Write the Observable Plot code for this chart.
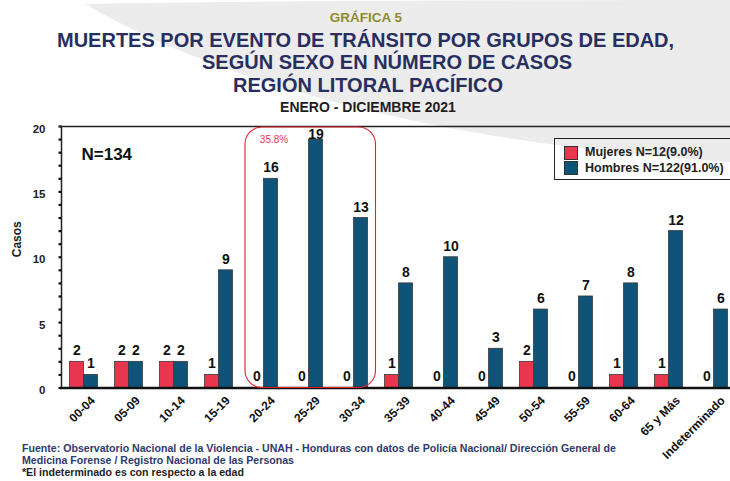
<!DOCTYPE html>
<html>
<head>
<meta charset="utf-8">
<script src="https://cdn.jsdelivr.net/npm/d3@7"></script>
<script src="https://cdn.jsdelivr.net/npm/@observablehq/plot@0.6"></script>
<style>
  body { margin: 0; background: #fff; }
  #wrap { position: relative; width: 730px; height: 481px; overflow: hidden; font-family: "Liberation Sans", Arial, sans-serif; }
  #bg { position: absolute; left: 0; top: 0; width: 730px; height: 481px; background: #ececec;
        clip-path: path('M85,4 Q300,0 730,0 L730,170 L730,162 C380,140 180,60 85,4 Z'); }
  .t { position: absolute; white-space: pre; font-weight: bold; line-height: 1; }
  #chart { position: absolute; left: 0; top: 110px; }
  #legend { position: absolute; left: 554px; top: 138px; width: 185px; height: 40px; border: 1.5px solid #222; }
  .sw { position: absolute; width: 12px; height: 12px; border: 1px solid #333; }
  .lt { position: absolute; white-space: pre; font-weight: bold; font-size: 12.5px; line-height: 1; color: #222; }
  .cap { position: absolute; left: 22px; white-space: pre; font-weight: bold; font-size: 10.6px; line-height: 1; }
</style>
</head>
<body>
<div id="wrap">
  <div id="bg"></div>
  <div class="t" style="left:166px;width:400px;text-align:center;top:11px;font-size:13.5px;color:#8c8c2e;">GRÁFICA 5</div>
  <div class="t" style="left:57px;top:29.6px;font-size:20px;color:#262f5f;">MUERTES POR EVENTO DE TRÁNSITO POR GRUPOS DE EDAD,</div>
  <div class="t" style="left:202px;top:52.3px;font-size:20px;color:#262f5f;">SEGÚN SEXO EN NÚMERO DE CASOS</div>
  <div class="t" style="left:233px;top:75px;font-size:20px;color:#262f5f;">REGIÓN LITORAL PACÍFICO</div>
  <div class="t" style="left:168px;width:400px;text-align:center;top:100.2px;font-size:14px;color:#1e1e1e;">ENERO - DICIEMBRE 2021</div>
  <div id="chart"></div>
  <div id="legend"></div>
  <div class="cap" style="top:443px;color:#2f3a6c;">Fuente: Observatorio Nacional de la Violencia - UNAH - Honduras con datos de Policía Nacional/ Dirección General de</div>
  <div class="cap" style="top:455px;color:#2f3a6c;">Medicina Forense / Registro Nacional de las Personas</div>
  <div class="cap" style="top:467px;color:#1e1e1e;">*El indeterminado es con respecto a la edad</div>
</div>
<script>
// ---- data ----
const categories = ["00-04","05-09","10-14","15-19","20-24","25-29","30-34","35-39","40-44","45-49","50-54","55-59","60-64","65 y Más","Indeterminado"];
const mujeres = [2,2,2,1,0,0,0,1,0,0,2,0,1,1,0];
const hombres = [1,2,2,9,16,19,13,8,10,3,6,7,8,12,6];
const yTicks = [0,5,10,15,20];
const series = ["Mujeres N=12(9.0%)", "Hombres N=122(91.0%)"];
const colors = ["#e8364e", "#0f5378"];
const totalLabel = "N=134";
const highlight = {from: "20-24", to: "30-34", label: "35.8%"};

const rowsM = categories.map((c, i) => ({cat: c, v: mujeres[i]}));
const rowsH = categories.map((c, i) => ({cat: c, v: hombres[i]}));
const clamp = d => d.v >= 19;

const txt = {fontSize: 14, fontWeight: "bold", fill: "#111"};

const chart = Plot.plot({
  width: 730,
  height: 370,
  marginLeft: 60,
  marginRight: 0,
  marginTop: 16,
  marginBottom: 92.5,
  style: {background: "transparent", overflow: "visible", fontFamily: "Liberation Sans, Arial, sans-serif", fontSize: "11.5px"},
  x: {domain: categories, range: [60.5, 735.5], padding: 0, axis: null},
  y: {domain: [0, 20], axis: null},
  marks: [
    Plot.barY(rowsM, {x: "cat", y: "v", fill: colors[0], stroke: "#3a3a3a", strokeWidth: 0.8, insetLeft: 8.5, insetRight: 22.5}),
    Plot.barY(rowsH, {x: "cat", y: "v", fill: colors[1], stroke: "#3a3a3a", strokeWidth: 0.8, insetLeft: 22.5, insetRight: 8.5}),
    Plot.ruleY([20], {stroke: "#222", strokeWidth: 1.5}),
    Plot.ruleY([0], {stroke: "#111", strokeWidth: 2.5}),
    Plot.ruleX([categories[0]], {dx: -22.5, stroke: "#222", strokeWidth: 1.5}),
    Plot.ruleY(d3.range(0, 21), {stroke: "#111", strokeWidth: 2.2, insetLeft: -1.5, insetRight: 668.5}),
    // y tick labels
    Plot.text(yTicks, {y: d => d, frameAnchor: "left", textAnchor: "end", dx: -15, dy: 2.5, fontSize: 11.5, fontWeight: "bold", fill: "#222"}),
    Plot.text(["Casos"], {frameAnchor: "left", rotate: -90, dx: -43, fontSize: 12, fontWeight: "bold", fill: "#222"}),
    // x tick labels
    Plot.text(categories, {x: d => d, y: 0, rotate: -45, textAnchor: "end", dx: 9, dy: 10.5, fontSize: 12, fontWeight: "bold", fill: "#111"}),
    // value labels
    Plot.text(rowsM, {x: "cat", y: "v", text: d => String(d.v), dx: -7, dy: -11, ...txt}),
    Plot.text(rowsH.filter(d => !clamp(d)), {x: "cat", y: "v", text: d => String(d.v), dx: 7, dy: -11, ...txt}),
    Plot.text(rowsH.filter(clamp), {x: "cat", y: "v", text: d => String(d.v), dx: 7, dy: -5.5, ...txt}),
    // annotations
    Plot.text([totalLabel], {frameAnchor: "top-left", lineAnchor: "middle", textAnchor: "start", dx: 21, dy: 28, fontSize: 17, fontWeight: "bold", fill: "#111"}),
    Plot.text([highlight.label], {x: () => highlight.from, y: () => 19, dx: 10, fontSize: 10, fontWeight: "normal", fill: "#e8364e", letterSpacing: "-0.3px"})
  ]
});
document.getElementById("chart").appendChild(chart);

// rounded highlight box from the chart's own scales
const sx = chart.scale("x"), sy = chart.scale("y");
const band = d3.scaleBand().domain(sx.domain).range(sx.range).paddingInner(sx.paddingInner ?? sx.padding ?? 0).paddingOuter(sx.paddingOuter ?? sx.padding ?? 0).align(sx.align ?? 0.5);
const yl = d3.scaleLinear().domain(sy.domain).range(sy.range);
const bx0 = band(highlight.from) + band.bandwidth() * 0.1;
const bx1 = band(highlight.to) + band.bandwidth();
d3.select(chart).append("rect")
  .attr("x", bx0).attr("y", yl(20) + 1)
  .attr("width", bx1 - bx0).attr("height", yl(0) - yl(20) - 1)
  .attr("rx", 17).attr("ry", 17)
  .attr("fill", "none").attr("stroke", "#e0202e").attr("stroke-width", 1.1);

// legend
const leg = document.getElementById("legend");
series.forEach((s, i) => {
  const sw = document.createElement("div");
  sw.className = "sw";
  sw.style.background = colors[i];
  sw.style.left = "9px";
  sw.style.top = (6.5 + i * 15) + "px";
  leg.appendChild(sw);
  const t = document.createElement("div");
  t.className = "lt";
  t.textContent = s;
  t.style.left = "30px";
  t.style.top = (7 + i * 15.5) + "px";
  leg.appendChild(t);
});
</script>
</body>
</html>
